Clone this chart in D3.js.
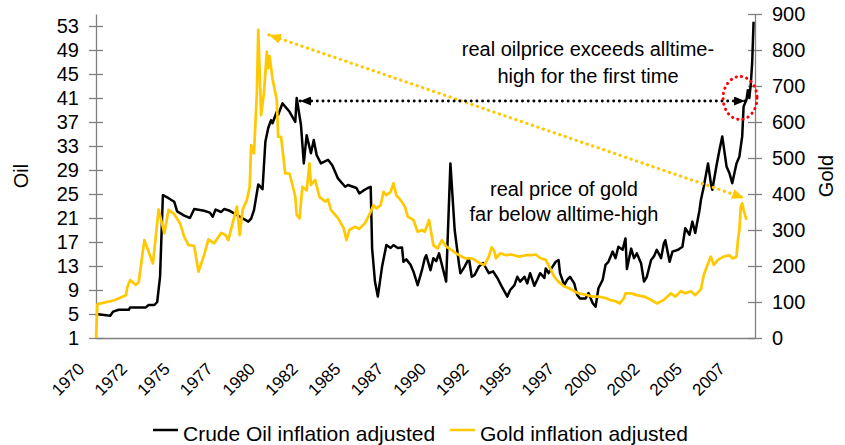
<!DOCTYPE html>
<html>
<head>
<meta charset="utf-8">
<script src="https://cdnjs.cloudflare.com/ajax/libs/d3/7.8.5/d3.min.js"></script>
<style>
  body { margin: 0; background: #fff; }
  svg { display: block; font-family: Arial, "Liberation Sans", sans-serif; }
</style>
</head>
<body>
<svg id="chart" width="845" height="445"></svg>
<script>
// months are counted from Jan 1970
var oilMonths = [0, 10, 12, 16, 23, 24, 35, 37, 41, 43, 45, 47, 51, 55, 57, 62, 66, 69, 76, 80, 82, 84, 88, 90, 94, 99,
    107, 109, 111, 114, 117, 119, 121, 123, 124, 127, 128, 131, 136, 140, 141, 144, 146, 148, 151, 153, 155, 158, 163, 166,
    170, 175, 177, 183, 185, 188, 191, 193, 194, 196, 198, 201, 204, 207, 209, 212, 215, 216, 218, 221, 223, 226, 229, 231,
    232, 235, 237, 239, 241, 244, 246, 249, 252, 255, 256, 259, 262, 264, 266, 269, 272, 276, 279, 282, 285, 289, 291, 294,
    296, 298, 301, 303, 305, 308, 310, 312, 315, 316, 318, 320, 323, 325, 326, 329, 331, 333, 336, 338, 340, 344, 346, 349,
    351, 353, 356, 358, 360, 363, 365, 367, 370, 372, 373, 376, 378, 380, 383, 385, 387, 390, 392, 394, 397, 399, 400, 403,
    405, 409, 412, 414, 417, 419, 421, 424, 425, 427, 430, 432, 433, 436, 438, 440, 443, 445, 447, 450, 452, 454, 455, 457,
    458, 459, 460, 461, 462];
var oilValues = [5.0, 4.7, 5.4, 5.7, 5.7, 6.1, 6.1, 6.5, 6.5, 7.0, 11.2, 24.8, 24.3, 23.7, 22.1, 21.4, 21.0, 22.5, 22.2, 21.9,
    21.2, 22.4, 22.0, 22.5, 22.2, 21.5, 20.4, 20.9, 22.3, 26.6, 25.8, 33.7, 36.0, 37.3, 36.8, 38.7, 38.2, 40.1, 38.7, 37.0,
    41.0, 36.5, 30.1, 34.8, 31.8, 34.0, 31.5, 30.1, 30.7, 29.8, 27.6, 26.2, 26.5, 26.0, 25.1, 25.6, 26.0, 26.2, 15.9, 10.4,
    7.9, 12.9, 16.5, 16.0, 16.5, 16.0, 16.1, 13.7, 14.1, 13.2, 12.1, 9.8, 12.3, 14.3, 14.8, 12.3, 14.3, 13.8, 15.1, 12.3,
    10.4, 30.1, 19.0, 13.4, 11.8, 12.9, 14.3, 11.2, 11.5, 12.9, 13.5, 11.8, 12.1, 11.0, 9.6, 7.9, 9.0, 9.8, 11.2, 10.4,
    11.2, 10.1, 11.8, 9.7, 10.7, 11.8, 11.0, 12.6, 11.8, 12.6, 13.7, 14.0, 11.8, 9.8, 10.7, 11.2, 10.1, 8.2, 7.6, 7.6,
    8.5, 6.8, 6.2, 9.3, 10.7, 13.2, 13.7, 15.4, 14.3, 16.2, 15.7, 17.6, 12.5, 15.9, 14.3, 15.1, 13.4, 10.4, 11.2, 14.0,
    14.6, 15.7, 14.3, 16.8, 17.3, 13.7, 15.4, 15.7, 16.2, 19.3, 18.2, 20.4, 18.5, 22.3, 24.0, 26.2, 30.1, 26.8, 25.7, 29.8,
    32.3, 34.6, 29.6, 28.5, 26.8, 30.1, 31.2, 34.6, 39.6, 40.7, 42.3, 41.0, 43.2, 46.8, 53.7];

var goldMonths = [0, 1, 13, 17, 21, 22, 24, 28, 30, 34, 40, 44, 48, 51, 55, 59, 62, 65, 69, 72, 76, 79, 83, 88, 91, 93, 96,
    99, 101, 103, 106, 108, 109, 111, 113, 114, 116, 118, 120, 121, 122, 124, 127, 128, 130, 133, 136, 140, 141, 143, 145,
    148, 150, 151, 154, 157, 161, 163, 165, 170, 174, 176, 178, 182, 185, 189, 192, 195, 197, 200, 202, 204, 207, 209, 211,
    214, 217, 219, 223, 226, 229, 231, 234, 237, 240, 243, 246, 250, 253, 257, 260, 264, 266, 270, 273, 276, 278, 280, 281,
    284, 288, 292, 297, 302, 306, 309, 312, 316, 319, 322, 325, 329, 332, 336, 339, 344, 349, 353, 358, 361, 365, 368, 371,
    372, 376, 380, 385, 390, 394, 399, 404, 407, 411, 414, 418, 421, 425, 427, 430, 432, 434, 437, 439, 441, 445, 447, 450,
    451, 452, 453, 454, 455, 457];
var goldValues = [0, 94, 105, 112, 119, 140, 161, 147, 155, 272, 207, 357, 291, 356, 344, 319, 281, 258, 256, 184, 231, 274,
    263, 292, 286, 272, 319, 365, 286, 356, 383, 420, 536, 513, 680, 856, 619, 680, 795, 749, 783, 721, 661, 559, 559, 457,
    457, 393, 342, 332, 420, 410, 485, 425, 439, 392, 379, 385, 356, 333, 305, 272, 300, 309, 303, 319, 342, 369, 360, 369,
    406, 397, 406, 430, 397, 383, 365, 337, 328, 295, 300, 295, 328, 258, 249, 272, 254, 244, 235, 226, 221, 221, 217, 207,
    203, 226, 252, 240, 221, 235, 230, 232, 226, 230, 230, 232, 222, 217, 194, 170, 156, 143, 139, 130, 124, 120, 115, 115,
    111, 106, 102, 96, 111, 124, 124, 119, 115, 106, 96, 106, 124, 115, 130, 124, 130, 119, 135, 175, 207, 226, 203, 217,
    222, 226, 230, 221, 226, 272, 300, 365, 374, 356, 328];

var oilTicks = [1, 5, 9, 13, 17, 21, 25, 29, 33, 37, 41, 45, 49, 53];
var goldTicks = [0, 100, 200, 300, 400, 500, 600, 700, 800, 900];
var yearLabels = ['1970', '1972', '1975', '1977', '1980', '1982', '1985', '1987', '1990', '1992',
    '1995', '1997', '2000', '2002', '2005', '2007'];
var labelStep = 30; // one year label every 30 months

var oilColor = '#000000';
var goldColor = '#FFC800';
var axisColor = '#808080';

var svg = d3.select('#chart');

var x = d3.scaleLinear().domain([0, 463]).range([96, 755]);
var yOil = d3.scaleLinear().domain([1, 55]).range([338, 14]);
var yGold = d3.scaleLinear().domain([0, 900]).range([338, 14]);

// arrow heads
var defs = svg.append('defs');
function arrowHead(id, color, len, wid) {
    defs.append('marker')
        .attr('id', id)
        .attr('markerUnits', 'userSpaceOnUse')
        .attr('markerWidth', len)
        .attr('markerHeight', wid)
        .attr('viewBox', '0 0 ' + len + ' ' + wid)
        .attr('refX', len)
        .attr('refY', wid / 2)
        .attr('orient', 'auto-start-reverse')
        .append('path')
        .attr('d', 'M0,0L' + len + ',' + (wid / 2) + 'L0,' + wid + 'Z')
        .attr('fill', color);
}
arrowHead('headBlack', '#000', 11, 9);
arrowHead('headGold', goldColor, 12, 10);

// left axis (oil)
var leftAxis = svg.append('g')
    .attr('transform', 'translate(' + x.range()[0] + ',0)')
    .call(d3.axisLeft(yOil).tickValues(oilTicks).tickSize(0).tickSizeOuter(0).tickPadding(17));
leftAxis.selectAll('.tick line').attr('x1', -7).attr('x2', 7);

// right axis (gold)
var rightAxis = svg.append('g')
    .attr('transform', 'translate(' + x.range()[1] + ',0)')
    .call(d3.axisRight(yGold).tickValues(goldTicks).tickSize(0).tickSizeOuter(0).tickPadding(17));
rightAxis.selectAll('.tick line').attr('x1', -7).attr('x2', 7);

// bottom axis with rotated year labels
var bottomAxis = svg.append('g')
    .attr('transform', 'translate(0,' + yOil.range()[0] + ')')
    .call(d3.axisBottom(x)
        .tickValues(yearLabels.map(function (d, i) { return i * labelStep; }))
        .tickFormat(function (d, i) { return yearLabels[i]; })
        .tickSize(0).tickSizeOuter(0));
bottomAxis.selectAll('.tick text')
    .attr('text-anchor', 'end')
    .attr('dy', null)
    .attr('y', 0)
    .attr('transform', 'translate(-11,32) rotate(-45)')
    .style('font-size', '17px');

[leftAxis, rightAxis, bottomAxis].forEach(function (g) {
    g.select('.domain').attr('stroke', axisColor).attr('stroke-width', 1.3);
    g.selectAll('.tick line').attr('stroke', axisColor).attr('stroke-width', 1.3);
    g.selectAll('.tick text').attr('fill', '#000').style('font-family', 'Arial, "Liberation Sans", sans-serif');
});
leftAxis.selectAll('.tick text').style('font-size', '20px');
rightAxis.selectAll('.tick text').style('font-size', '20px');

// axis titles
svg.append('text')
    .attr('transform', 'translate(28,176) rotate(-90)')
    .attr('text-anchor', 'middle')
    .style('font-size', '20px')
    .text('Oil');
svg.append('text')
    .attr('transform', 'translate(833,176) rotate(-90)')
    .attr('text-anchor', 'middle')
    .style('font-size', '20px')
    .text('Gold');

// series
var oilLine = d3.line()
    .x(function (d) { return x(d[0]); })
    .y(function (d) { return yOil(d[1]); });
var goldLine = d3.line()
    .x(function (d) { return x(d[0]); })
    .y(function (d) { return yGold(d[1]); });

svg.append('path')
    .datum(d3.zip(oilMonths, oilValues))
    .attr('d', oilLine)
    .attr('fill', 'none')
    .attr('stroke', oilColor)
    .attr('stroke-width', 2.5)
    .attr('stroke-linejoin', 'round');

svg.append('path')
    .datum(d3.zip(goldMonths, goldValues))
    .attr('d', goldLine)
    .attr('fill', 'none')
    .attr('stroke', goldColor)
    .attr('stroke-width', 2.7)
    .attr('stroke-linejoin', 'round');

// annotations: arrows are placed in data units
var oilArrow = { from: [143.4, 40.5], to: [456, 40.5] };
var goldArrow = { from: [121.5, 842], to: [455.3, 389] };
var circleAt = [452.5, 41];

svg.append('line')
    .attr('x1', x(goldArrow.from[0])).attr('y1', yGold(goldArrow.from[1]))
    .attr('x2', x(goldArrow.to[0])).attr('y2', yGold(goldArrow.to[1]))
    .attr('stroke', goldColor)
    .attr('stroke-width', 3.2)
    .attr('stroke-linecap', 'round')
    .attr('stroke-dasharray', '0.2 5.6')
    .attr('marker-start', 'url(#headGold)')
    .attr('marker-end', 'url(#headGold)');

svg.append('line')
    .attr('x1', x(oilArrow.from[0])).attr('y1', yOil(oilArrow.from[1]))
    .attr('x2', x(oilArrow.to[0])).attr('y2', yOil(oilArrow.to[1]))
    .attr('stroke', '#000')
    .attr('stroke-width', 2.8)
    .attr('stroke-linecap', 'round')
    .attr('stroke-dasharray', '0.2 5.5')
    .attr('marker-start', 'url(#headBlack)')
    .attr('marker-end', 'url(#headBlack)');

svg.append('ellipse')
    .attr('cx', x(circleAt[0]))
    .attr('cy', yOil(circleAt[1]))
    .attr('rx', 17)
    .attr('ry', 21.5)
    .attr('fill', 'none')
    .attr('stroke', '#FF0000')
    .attr('stroke-width', 3)
    .attr('stroke-linecap', 'round')
    .attr('stroke-dasharray', '0.2 5.2');

function note(lines, cx, y0, step) {
    var t = svg.append('text')
        .attr('text-anchor', 'middle')
        .style('font-size', '20px');
    lines.forEach(function (s, i) {
        t.append('tspan').attr('x', cx).attr('y', y0 + i * step).text(s);
    });
}
note(['real oilprice exceeds alltime-', 'high for the first time'], 588, 56, 27);
note(['real price of gold', 'far below alltime-high'], 564, 196, 25);

// legend
var legend = svg.append('g').attr('transform', 'translate(153,434)');
var items = [
    { label: 'Crude Oil inflation adjusted', color: oilColor, x: 0 },
    { label: 'Gold inflation adjusted', color: goldColor, x: 297 }
];
items.forEach(function (d) {
    var g = legend.append('g').attr('transform', 'translate(' + d.x + ',0)');
    g.append('line').attr('x1', 0).attr('x2', 25).attr('y1', -4).attr('y2', -4)
        .attr('stroke', d.color).attr('stroke-width', 2.5);
    g.append('text').attr('x', 30).attr('y', 7).style('font-size', '21px').text(d.label);
});
</script>
</body>
</html>
